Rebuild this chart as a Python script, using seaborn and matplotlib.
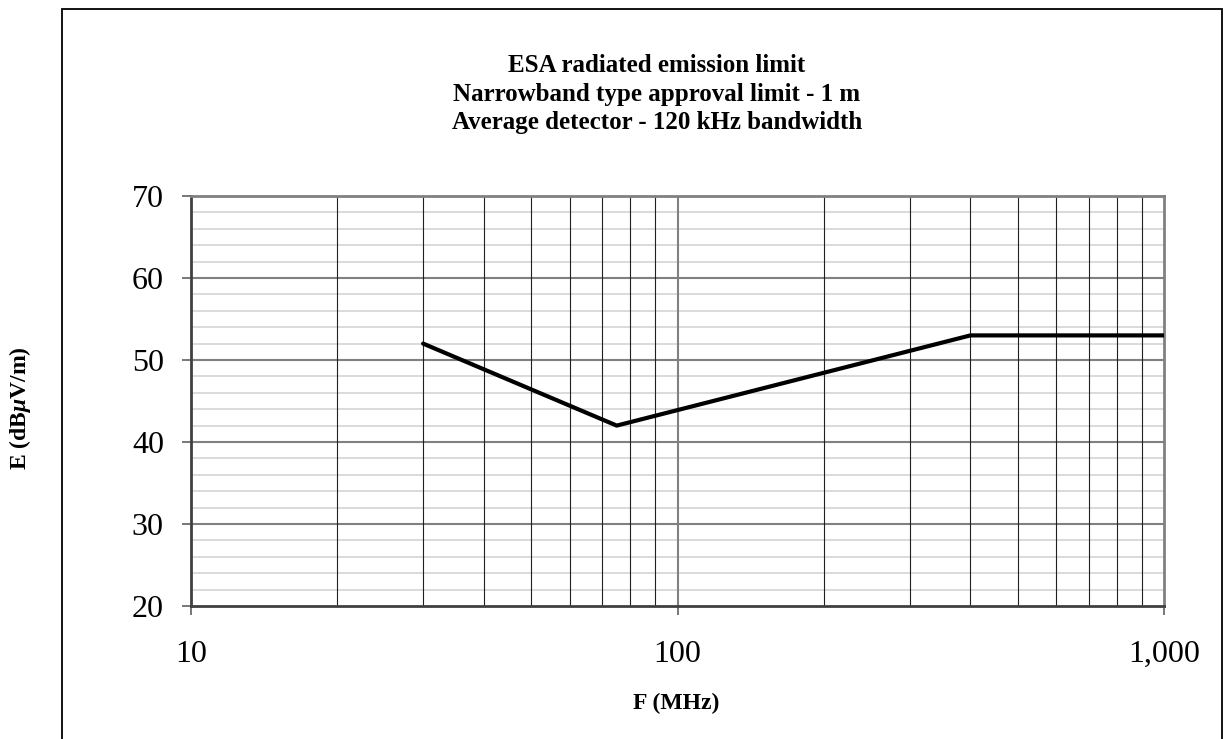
import matplotlib
matplotlib.use("Agg")
import matplotlib.pyplot as plt
from matplotlib.patches import Rectangle
from matplotlib.ticker import FixedLocator, FuncFormatter, MultipleLocator, NullFormatter
import numpy as np
import pandas as pd
import seaborn as sns

# limit line, breakpoints
freq_mhz = [30, 75, 400, 1000]
limit_dbuv = [52, 42, 53, 53]

title_lines = ["ESA radiated emission limit",
               "Narrowband type approval limit - 1 m",
               "Average detector - 120 kHz bandwidth"]

sns.set_theme(style="white")
plt.rcParams['font.family'] = ['Liberation Serif', 'DejaVu Serif']
plt.rcParams['text.color'] = 'black'
plt.rcParams['mathtext.fontset'] = 'custom'
plt.rcParams['mathtext.it'] = 'Liberation Serif:italic:bold'
plt.rcParams['mathtext.rm'] = 'Liberation Serif:bold'

df = pd.DataFrame({'F': freq_mhz, 'E': limit_dbuv})

fig = plt.figure(figsize=(12.24, 7.39), dpi=100)
ax = fig.add_axes([191/1224, 1-606/739, (1164-191)/1224, (606-196)/739])

# outer frame of the chart area
fig.patches.append(Rectangle((62/1224, -0.2), (1222-62)/1224, 1.2-9/739,
                             transform=fig.transFigure, fill=False,
                             edgecolor='black', linewidth=1.3, zorder=0))

ax.set_xscale('log')
ax.set_xlim(10, 1000)
ax.set_ylim(20, 70)

# grid: horizontals first, verticals on top
for yv in np.arange(22, 70, 2):
    if yv % 10 == 0:
        ax.axhline(yv, color='#808080', lw=1.5, zorder=1)
    else:
        ax.axhline(yv, color='#d4d4d4', lw=1.2, zorder=1)
minor_x = [v*d for d in (10, 100) for v in range(2, 10)]
for xv in minor_x:
    ax.axvline(xv, color='#202020', lw=0.8, zorder=1.5)
ax.axvline(100, color='#808080', lw=1.5, zorder=1.5)

sns.lineplot(data=df, x='F', y='E', color='black', linewidth=3, ax=ax, zorder=3)

ax.xaxis.set_major_locator(FixedLocator([10, 100, 1000]))
ax.xaxis.set_minor_locator(FixedLocator([]))
ax.xaxis.set_minor_formatter(NullFormatter())
ax.xaxis.set_major_formatter(FuncFormatter(lambda v, p: '{:,.0f}'.format(v)))
ax.yaxis.set_major_locator(MultipleLocator(10))

ax.tick_params(axis='both', which='major', direction='out', length=6.5,
               width=1.2, color='#606060', labelsize=23, labelcolor='black')
ax.tick_params(axis='x', pad=18)
ax.tick_params(axis='y', pad=13)
ax.tick_params(left=True, bottom=True)

for side in ['left', 'bottom']:
    ax.spines[side].set_color('#404040')
    ax.spines[side].set_linewidth(2)
for side in ['top', 'right']:
    ax.spines[side].set_color('#808080')
    ax.spines[side].set_linewidth(2)

ax.set_xlabel('')
ax.set_ylabel('')
fig.text(676/1224, 1-703/739, 'F (MHz)', ha='center', va='center',
         fontsize=17, fontweight='bold', color='black')
fig.text(20/1224, 1-408/739, r'E (dB$\mu$V/m)', ha='center', va='center',
         rotation=90, fontsize=17, fontweight='bold', color='black')

for i, line in enumerate(title_lines):
    fig.text(657/1224, 1-(66+28*i)/739, line, ha='center', va='center',
             fontsize=18, fontweight='bold', color='black')

fig.savefig('out.png', dpi=100)
